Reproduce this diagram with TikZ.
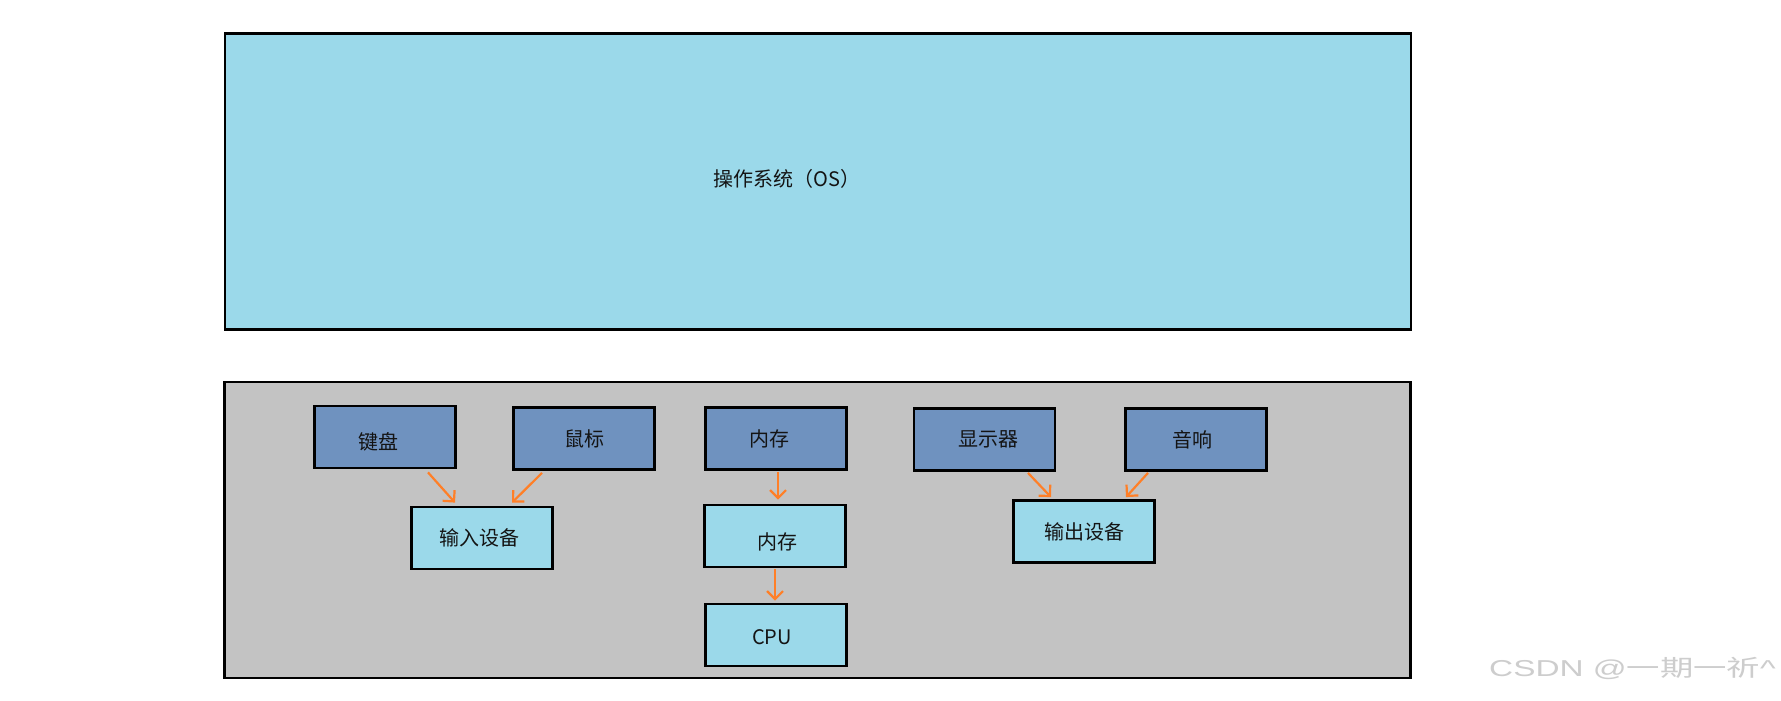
\documentclass[tikz,border=0pt]{standalone}
\usepackage{fontspec}
\usepackage{graphicx}
\setmainfont{Noto Sans CJK SC}
\newfontfamily\wmlatin{Liberation Sans}
\usetikzlibrary{arrows.meta,calc}
\definecolor{oslight}{RGB}{155,217,234}
\definecolor{devblue}{RGB}{111,146,191}
\definecolor{hwgray}{RGB}{195,195,195}
\definecolor{arrorange}{RGB}{255,127,39}
\definecolor{txt}{RGB}{20,20,20}
\definecolor{wmcol}{RGB}{205,205,205}
\tikzset{
  bigbox/.style={draw=black,line width=2.5pt,minimum width=1186pt,minimum height=296pt,inner sep=0pt},
  devbox/.style={draw=black,line width=2.8pt,fill=devblue,minimum width=141pt,minimum height=62pt,inner sep=0pt,font=\fontsize{20}{24}\selectfont,text=txt},
  midbox/.style={devbox,fill=oslight},
  arr/.style={draw=arrorange,line width=2.2pt,-{Straight Barb[length=8pt,width=16pt,line width=2.2pt]}},
}
\newcommand{\mvtxt}[3]{\raisebox{#2}[\height][\depth]{#3}\hspace*{#1}}
\begin{document}
\begin{tikzpicture}[x=1pt,y=-1pt]
\useasboundingbox (0,0) rectangle (1781,701);
\fill[white] (0,0) rectangle (1781,701);
% top OS box
\node[bigbox,fill=oslight] (os) at (818,181.5) {};
\node[font=\fontsize{20}{24}\selectfont,text=txt] (ostxt) at (787,179) {操作系统（OS）};
% hardware box
\node[bigbox,fill=hwgray] (hw) at (817.5,530) {};
% devices
\node[devbox] (kb) at (385,437) {\mvtxt{14pt}{-5pt}{键盘}};
\node[devbox] (ms) at (584,438.5) {鼠标};
\node[midbox] (in) at (482,538) {\mvtxt{6pt}{0pt}{输入设备}};
\node[devbox] (mem1) at (776,438.5) {\mvtxt{14pt}{0pt}{内存}};
\node[midbox] (mem2) at (775,536) {\mvtxt{-4pt}{-6pt}{内存}};
\node[midbox] (cpu) at (776,635) {\mvtxt{8pt}{-2pt}{CPU}};
\node[devbox] (disp) at (984.5,439.5) {\mvtxt{-7pt}{0pt}{显示器}};
\node[devbox] (spk) at (1196,439.5) {\mvtxt{8pt}{0pt}{音响}};
\node[midbox] (out) at (1084,531.5) {输出设备};
% arrows
\draw[arr] ($(kb.south)+(43,3)$) -- ($(in.north)+(-27,-3)$);
\draw[arr] ($(ms.south)+(-42,2)$) -- ($(in.north)+(30,-3)$);
\draw[arr] ($(mem1.south)+(2,1)$) -- ($(mem2.north)+(3,-4)$);
\draw[arr] ($(mem2.south)+(0,1)$) -- ($(cpu.north)+(-1,-2)$);
\draw[arr] ($(disp.south)+(43.5,1)$) -- ($(out.north)+(-33,-2)$);
\draw[arr] ($(spk.south)+(-48,1)$) -- ($(out.north)+(42,-2)$);
% watermark
\node[anchor=west,inner sep=0pt,font=\fontsize{23}{26}\selectfont,text=wmcol] (wm) at (1489,668) {\scalebox{1.45}[1]{{\wmlatin CSDN @}一期一祈{\wmlatin\^{}}}};
\end{tikzpicture}
\end{document}
